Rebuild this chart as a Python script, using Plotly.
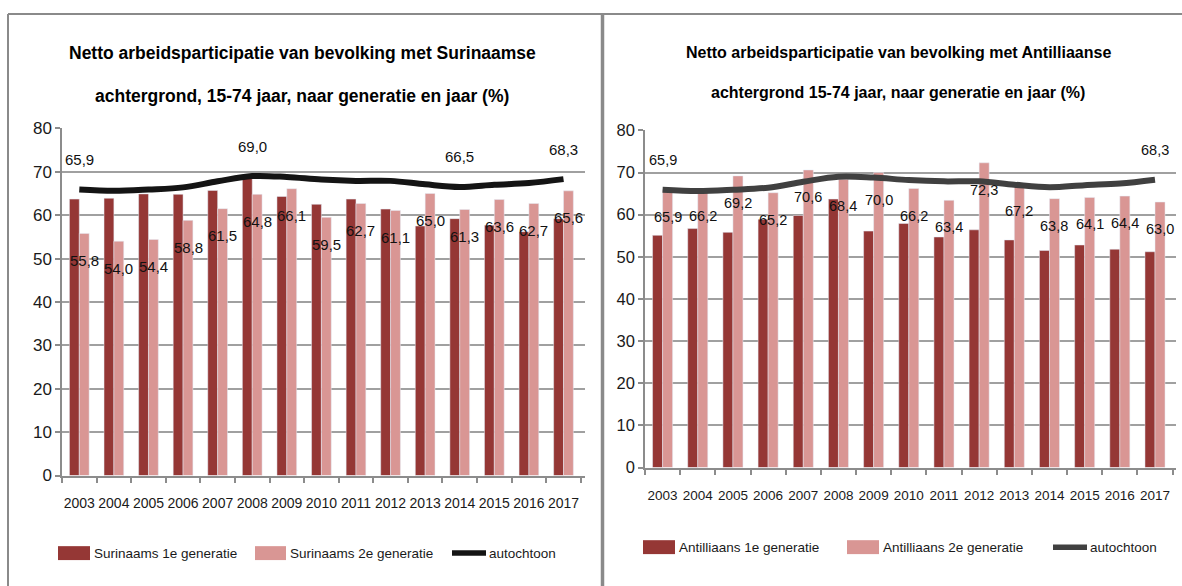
import plotly.graph_objects as go

W, H = 1182, 586

years = [str(y) for y in range(2003, 2018)]

# Left chart: Surinaamse achtergrond
sur_1e = [63.7, 63.9, 64.9, 64.8, 65.7, 68.5, 64.3, 62.5, 63.7, 61.4, 57.5, 59.2, 57.7, 56.2, 59.2]
sur_2e = [55.8, 54.0, 54.4, 58.8, 61.5, 64.8, 66.1, 59.5, 62.7, 61.1, 65.0, 61.3, 63.6, 62.7, 65.6]

# Right chart: Antilliaanse achtergrond
ant_1e = [55.1, 56.7, 55.8, 58.9, 59.8, 63.7, 56.1, 57.9, 54.7, 56.4, 54.0, 51.5, 52.8, 51.8, 51.2]
ant_2e = [65.9, 66.2, 69.2, 65.2, 70.6, 68.4, 70.0, 66.2, 63.4, 72.3, 67.2, 63.8, 64.1, 64.4, 63.0]

# autochtoon (same in both charts)
autochtoon = [65.9, 65.6, 65.9, 66.4, 67.8, 69.0, 68.8, 68.2, 67.9, 67.9, 67.1, 66.5, 67.0, 67.4, 68.3]
left_line_label_years = ["2003", "2008", "2014", "2017"]
right_line_label_years = ["2003", "2017"]

title_left = ["Netto arbeidsparticipatie van bevolking met Surinaamse",
              "achtergrond, 15-74 jaar, naar generatie en jaar (%)"]
title_right = ["Netto arbeidsparticipatie van bevolking met Antilliaanse",
               "achtergrond 15-74 jaar, naar generatie en jaar (%)"]
legend_left = ["Surinaams 1e generatie", "Surinaams 2e generatie", "autochtoon"]
legend_right = ["Antilliaans 1e generatie", "Antilliaans 2e generatie", "autochtoon"]

DARK = "#953735"
LIGHT = "#D99694"
FONT = "Liberation Sans, Arial, sans-serif"


def px(x):
    return x / W


def py(y):
    # vertical pixel position (from top) -> paper fraction, compensating the page's vertical fit
    return 1 - ((y - 8) / 0.9727) / H


fig = go.Figure()

fig.add_trace(go.Bar(x=years, y=sur_1e, marker_color=DARK, name=legend_left[0], xaxis="x", yaxis="y"))
fig.add_trace(go.Bar(x=years, y=sur_2e, marker_color=LIGHT, name=legend_left[1], xaxis="x", yaxis="y"))
fig.add_trace(go.Scatter(x=years, y=autochtoon, mode="lines", line=dict(color="#141414", width=6, shape="spline"),
                         name=legend_left[2], xaxis="x", yaxis="y"))

fig.add_trace(go.Bar(x=years, y=ant_1e, marker_color=DARK, name=legend_right[0], xaxis="x2", yaxis="y2"))
fig.add_trace(go.Bar(x=years, y=ant_2e, marker_color=LIGHT, name=legend_right[1], xaxis="x2", yaxis="y2"))
fig.add_trace(go.Scatter(x=years, y=autochtoon, mode="lines", line=dict(color="#404040", width=6, shape="spline"),
                         name=legend_right[2], xaxis="x2", yaxis="y2"))


def xaxis_style(size):
    return dict(type="category", showgrid=False, showline=True, linecolor="#8c8c8c", linewidth=1.5,
                ticks="outside", tickson="boundaries", ticklen=6, tickcolor="#8c8c8c", tickwidth=1.5,
                tickangle=0, ticklabelstandoff=14,
                tickfont=dict(family=FONT, size=size, color="#1a1a1a"), fixedrange=True)


def yaxis_style(size):
    return dict(range=[0, 80], dtick=10, showgrid=True, gridcolor="#a0a0a0", gridwidth=1.8,
                showline=True, linecolor="#8c8c8c", linewidth=1.5, ticks="outside", ticklen=5,
                tickcolor="#8c8c8c", tickwidth=1.5, zeroline=False,
                tickfont=dict(family=FONT, size=size, color="#1a1a1a"), fixedrange=True)


fig.update_layout(
    width=W, height=H, autosize=False,
    margin=dict(l=0, r=0, t=0, b=0),
    paper_bgcolor="white", plot_bgcolor="white",
    showlegend=False,
    barmode="group", bargap=0.43, bargroupgap=0.0,
    xaxis=dict(domain=[px(62), px(585)], anchor="y", **xaxis_style(14)),
    yaxis=dict(domain=[py(477), py(128)], anchor="x", **yaxis_style(17)),
    xaxis2=dict(domain=[px(645), px(1176)], anchor="y2", **xaxis_style(13.5)),
    yaxis2=dict(domain=[py(469), py(130)], anchor="x2", **yaxis_style(16.5)),
)

annotations = []
# titles
for i, line in enumerate(title_left):
    annotations.append(dict(xref="paper", yref="paper", x=px(302), y=py([52, 95][i]), text="<b>%s</b>" % line,
                            showarrow=False, xanchor="center", yanchor="middle",
                            font=dict(family=FONT, size=17.5, color="black")))
for i, line in enumerate(title_right):
    annotations.append(dict(xref="paper", yref="paper", x=px(898), y=py([52, 92][i]), text="<b>%s</b>" % line,
                            showarrow=False, xanchor="center", yanchor="middle",
                            font=dict(family=FONT, size=16, color="black")))

# data labels on the 2nd generation bars (category axis -> use category index)
for xr, yr, vals, fs in (("x", "y", sur_2e, 15), ("x2", "y2", ant_2e, 14.5)):
    for i, v in enumerate(vals):
        annotations.append(dict(xref=xr, yref=yr, x=i, y=v, text=("%.1f" % v).replace(".", ","),
                                showarrow=False, xshift=5, yshift=-27, xanchor="center", yanchor="middle",
                                font=dict(family=FONT, size=fs, color="#111")))

# line labels
for xr, yr, lbl_years, fs in (("x", "y", left_line_label_years, 15), ("x2", "y2", right_line_label_years, 14.5)):
    for yy in lbl_years:
        i = years.index(yy)
        v = autochtoon[i]
        annotations.append(dict(xref=xr, yref=yr, x=i, y=v, text=("%.1f" % v).replace(".", ","),
                                showarrow=False, yshift=30, xanchor="center", yanchor="middle",
                                font=dict(family=FONT, size=fs, color="#111")))

shapes = []
# panel borders
BORDER = "#8a8a8a"
shapes.append(dict(type="line", xref="paper", yref="paper", x0=px(8), x1=px(8), y0=py(13), y1=py(600),
                   line=dict(color=BORDER, width=2)))
shapes.append(dict(type="line", xref="paper", yref="paper", x0=px(8), x1=1, y0=py(13), y1=py(13),
                   line=dict(color=BORDER, width=2)))
shapes.append(dict(type="line", xref="paper", yref="paper", x0=px(602.5), x1=px(602.5), y0=py(13), y1=py(600),
                   line=dict(color=BORDER, width=3.5)))


# manual legends
def add_legend(items, ycenter, sw1, sw2, sw3, fs):
    for (x0, x1), color, label in ((sw1, DARK, items[0]), (sw2, LIGHT, items[1])):
        shapes.append(dict(type="rect", xref="paper", yref="paper", x0=px(x0), x1=px(x1),
                           y0=py(ycenter + 7), y1=py(ycenter - 7), fillcolor=color, line=dict(width=0)))
        annotations.append(dict(xref="paper", yref="paper", x=px(x1 + 2), y=py(ycenter), text=label,
                                showarrow=False, xanchor="left", yanchor="middle",
                                font=dict(family=FONT, size=fs, color="#1a1a1a")))
    x0, x1, col = sw3
    shapes.append(dict(type="line", xref="paper", yref="paper", x0=px(x0), x1=px(x1), y0=py(ycenter), y1=py(ycenter),
                       line=dict(color=col, width=5.5)))
    annotations.append(dict(xref="paper", yref="paper", x=px(x1 + 1), y=py(ycenter), text=items[2],
                            showarrow=False, xanchor="left", yanchor="middle",
                            font=dict(family=FONT, size=fs, color="#1a1a1a")))


add_legend(legend_left, 555, (58, 90), (255, 286), (452, 486, "#141414"), 13.5)
add_legend(legend_right, 549, (643, 675), (847, 879), (1053, 1087, "#404040"), 13.5)

fig.update_layout(annotations=annotations, shapes=shapes)

post = (
    "document.documentElement.style.margin='0';document.documentElement.style.overflow='hidden';"
    "document.body.style.margin='0';document.body.style.padding='0';document.body.style.overflow='hidden';"
    "var gd=document.getElementById('{plot_id}');gd.style.width='1182px';gd.style.height='586px';"
    "Plotly.relayout(gd,{width:1182,height:586,autosize:false});"
)
fig.write_html("out.html", config={"displayModeBar": False, "responsive": False}, post_script=post)
